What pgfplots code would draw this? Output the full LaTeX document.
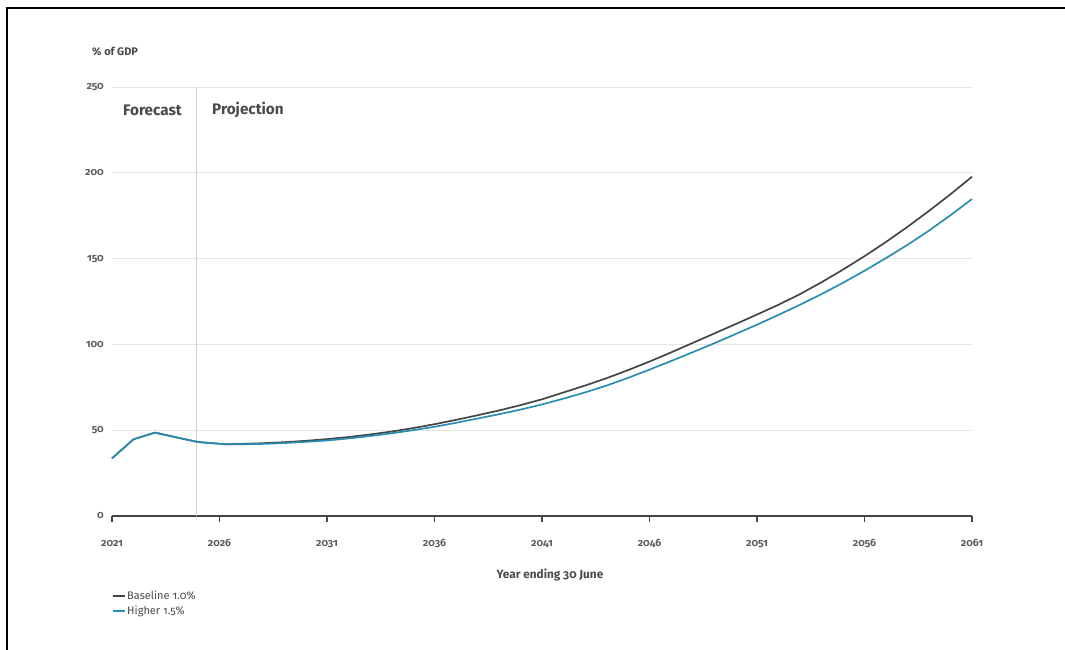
\documentclass[border=0pt]{standalone}
\usepackage{fontspec}
\setmainfont{Fira Sans}[Numbers=OldStyle]
\usepackage{pgfplots}
\pgfplotsset{compat=1.18}

\definecolor{basegray}{HTML}{454545}
\definecolor{highblue}{HTML}{2A8DB3}
\definecolor{gridgray}{HTML}{E6E6E6}
\definecolor{labelgray}{HTML}{5E5E5E}
\definecolor{textgray}{HTML}{4A4A4A}

% Net debt, % of GDP, year ending 30 June
\pgfplotstableread{
year   val
2021   33.6
2022   44.7
2023   48.6
2024   45.8
2025   43.1
2026.3 41.8
2027   42.0
2028   42.4
2029   43.0
2030   43.8
2031   44.8
2032   46.0
2033   47.5
2034   49.2
2035   51.2
2036   53.5
2037   56.0
2038   58.7
2039   61.5
2040   64.6
2041   68.0
2042   72.0
2043   76.0
2044   80.3
2045   85.0
2046   90.0
2047   95.3
2048   100.8
2049   106.3
2050   111.8
2051   117.4
2052   123.1
2053   129.3
2054   136.2
2055   143.6
2056   151.4
2057   159.7
2058   168.5
2059   177.8
2060   187.5
2061   197.7
}\baseline

\pgfplotstableread{
year   val
2021   33.6
2022   44.7
2023   48.6
2024   45.8
2025   43.1
2026.3 41.8
2027   41.8
2028   42.0
2029   42.5
2030   43.2
2031   44.0
2032   45.2
2033   46.6
2034   48.2
2035   50.0
2036   52.0
2037   54.3
2038   56.8
2039   59.3
2040   62.0
2041   65.0
2042   68.4
2043   72.0
2044   76.0
2045   80.5
2046   85.3
2047   90.3
2048   95.4
2049   100.6
2050   106.0
2051   111.5
2052   117.2
2053   123.1
2054   129.3
2055   135.9
2056   142.9
2057   150.3
2058   158.0
2059   166.3
2060   175.3
2061   184.7
}\higher

\begin{document}
\begin{tikzpicture}[x=1pt,y=1pt]
\path[use as bounding box] (0,0) rectangle (1065,650);
\draw[line width=1.2pt, black] (7,0) -- (7,642) -- (1065,642);

\begin{axis}[
  at={(112pt,134pt)}, anchor=south west,
  scale only axis, width=860pt, height=429pt,
  xmin=2021, xmax=2061, ymin=0, ymax=250,
  xtick={2021,2026,...,2061}, ytick={0,50,...,250},
  axis x line=bottom, axis y line=left,
  x axis line style={-, draw=basegray, line width=1.1pt},
  y axis line style={draw=none},
  xtick style={draw=basegray, line width=1.1pt},
  ytick style={draw=none},
  tick align=outside,
  major tick length=6pt,
  ymajorgrids, grid style={draw=gridgray, line width=0.8pt},
  /pgf/number format/assume math mode=true,
  /pgf/number format/1000 sep={},
  xticklabel style={font=\bfseries\fontsize{10.5}{12}\selectfont, text=labelgray, anchor=base, yshift=-25pt},
  yticklabel style={font=\bfseries\fontsize{10.5}{12}\selectfont, text=labelgray, anchor=east, inner sep=0pt, xshift=-2pt},
  legend style={at={(axis description cs:0,-0.172)}, anchor=north west,
    draw=none, fill=none, inner sep=0pt, row sep=3pt,
    font=\fontsize{11}{13}\selectfont\color{textgray},
    nodes={inner sep=1pt}},
  legend cell align=left,
  legend image code/.code={\draw[#1, line width=2pt] (0pt,0pt) -- (12pt,0pt);},
  clip=false,
]
\draw[gridgray!80!gray, line width=0.6pt] (axis cs:2024.9,0) -- (axis cs:2024.9,250);
\addplot[basegray, line width=1.7pt, line join=round] table[x=year, y=val] {\baseline};
\addlegendentry{Baseline 1.0\%}
\addplot[highblue, line width=1.7pt, line join=round] table[x=year, y=val] {\higher};
\addlegendentry{Higher 1.5\%}
\end{axis}

\node[anchor=west, inner sep=0pt, font=\bfseries\fontsize{11}{13}\selectfont, text=textgray] at (92,598) {\% of GDP};
\node[anchor=west, inner sep=0pt, font=\bfseries\fontsize{15.3}{18}\selectfont, text=textgray] at (123,540) {Forecast};
\node[anchor=west, inner sep=0pt, font=\bfseries\fontsize{15.3}{18}\selectfont, text=textgray] at (212,540) {Projection};
\node[inner sep=0pt, font=\bfseries\fontsize{11.8}{14}\selectfont, text=textgray] at (550,75) {Year ending 30 June};
\end{tikzpicture}
\end{document}
